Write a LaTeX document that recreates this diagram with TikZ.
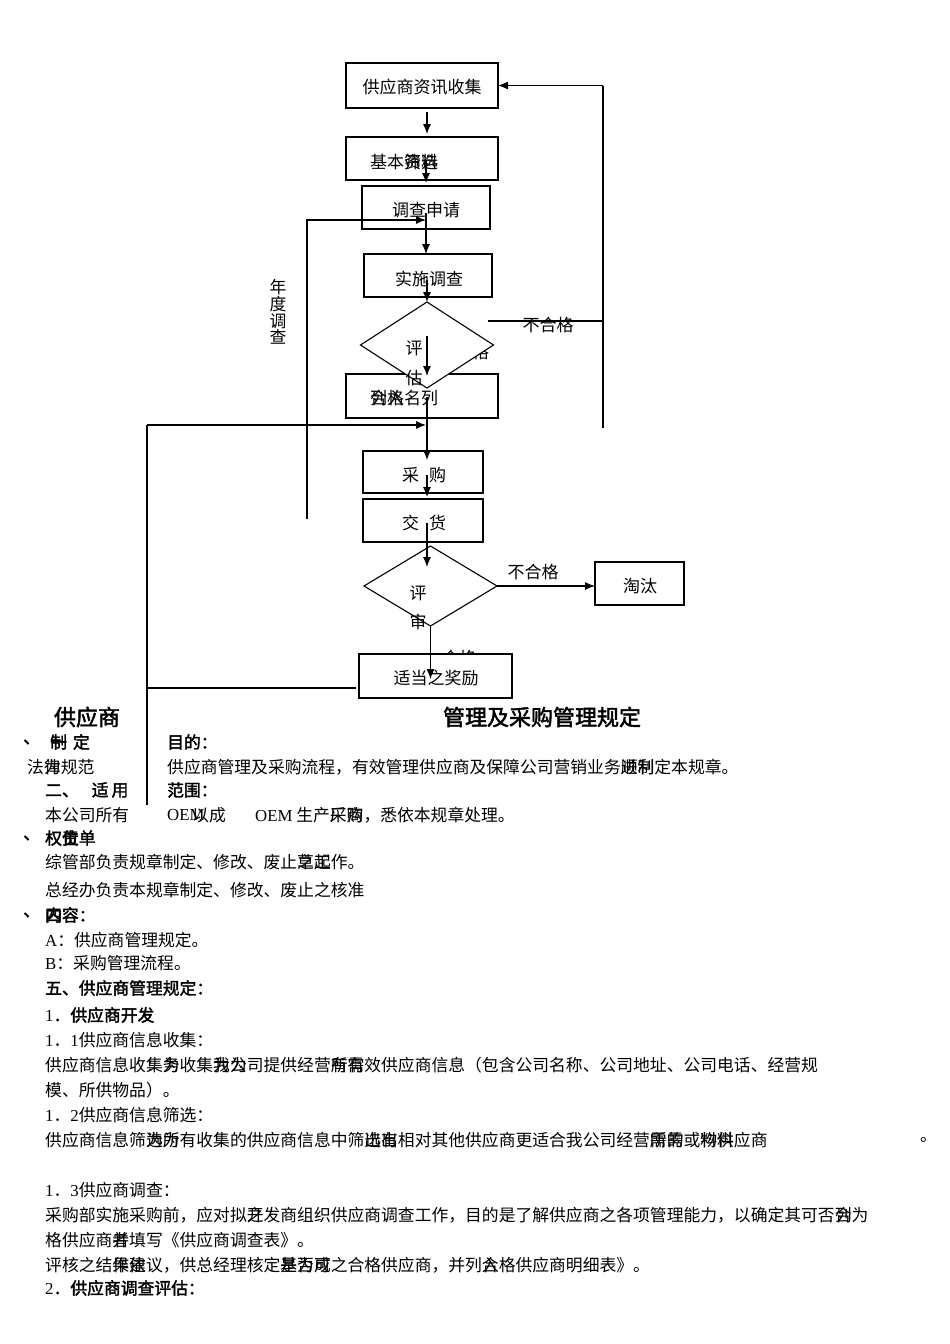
\documentclass[tikz,border=0pt]{standalone}
\usepackage{fontspec}
\setmainfont{Noto Sans CJK SC}
\newfontfamily\lat{Liberation Serif}
\newfontfamily\cjkb[FakeBold=2]{Noto Sans CJK SC}
\usetikzlibrary{arrows.meta,shapes.geometric}
\newcommand\olap[2]{\rlap{#1}#2}
\begin{document}
\begin{tikzpicture}[x=1pt,y=-1pt,
  box/.style={draw,line width=1.1pt,fill=white,inner sep=0pt,outer sep=0pt},
  dia/.style={draw,line width=1.1pt,fill=white,shape=diamond,inner sep=0pt,outer sep=0pt},
  lbl/.style={inner sep=0pt,font=\fontsize{17}{20}\selectfont},
  txt/.style={anchor=west,inner sep=0pt,font=\fontsize{16.8}{20}\selectfont},
  btxt/.style={anchor=west,inner sep=0pt,font=\cjkb\fontsize{16.8}{20}\selectfont},
  ttl/.style={inner sep=0pt,font=\cjkb\fontsize{22}{24}\selectfont},
  conn/.style={line width=1.1pt},
  arr/.style={conn,-{Latex[length=10pt,width=8pt]}}]
\path[fill=white,use as bounding box] (0,0) rectangle (950,1344);

% labels partly covered by shapes
\node[lbl] (g1) at (472,352) {合格};
\node[lbl] (g2) at (459,658) {合格};

% shapes
\node[box,minimum width=152pt,minimum height=45pt] (b1) at (422,85.5) {};
\node[box,minimum width=152pt,minimum height=43pt] (b2) at (422,158.5) {};
\node[box,minimum width=128pt,minimum height=43pt] (b3) at (426,207.5) {};
\node[box,minimum width=128pt,minimum height=43pt] (b4) at (428,275.5) {};
\node[box,minimum width=152pt,minimum height=44pt] (b5) at (422,396) {};
\node[dia,minimum width=133pt,minimum height=86pt] (d1) at (427,345) {};
\node[box,minimum width=120pt,minimum height=42pt] (bc) at (423,472) {};
\node[box,minimum width=120pt,minimum height=43pt] (bj) at (423,520.5) {};
\node[dia,minimum width=133pt,minimum height=80pt] (d2) at (430.5,586) {};
\node[box,minimum width=89pt,minimum height=43pt] (bt) at (639.5,583.5) {};
\node[box,minimum width=153pt,minimum height=44pt] (bw) at (435.5,676) {};

% flowchart texts
\node[lbl] (t1) at (422,87) {供应商资讯收集};
\node[lbl,anchor=west] (t2) at (370,162) {基本\olap{资}{筛}\olap{料}{选}};
\node[lbl] (t3) at (426,210) {调查申请};
\node[lbl] (t4) at (429,279) {实施调查};
\node[lbl,anchor=west] (t5) at (370,398) {\olap{列}{合}\olap{入}{格}名列};
\node[lbl] (e1) at (414,348) {评};
\node[lbl] (e2) at (414,378) {估};
\node[lbl] (nf1) at (548,325) {不合格};
\node[lbl,align=center,font=\fontsize{16.8}{16.8}\selectfont] (yd) at (278,312) {年\\度\\调\\查};
\node[lbl] (tc) at (424,475) {采\hspace{10pt}购};
\node[lbl] (tj) at (424,523) {交\hspace{10pt}货};
\node[lbl] (r1) at (418,593) {评};
\node[lbl] (r2) at (418,622) {审};
\node[lbl] (nf2) at (533,572) {不合格};
\node[lbl] (tt) at (640,586) {淘汰};
\node[lbl] (tw) at (436,678) {适当之奖励};

% connector end points
\coordinate (a1s) at (427,112); \coordinate (a1e) at (427,134);
\coordinate (a2s) at (426,160); \coordinate (a2e) at (426,183);
\coordinate (yL) at (307,519); \coordinate (yT) at (307,220); \coordinate (yE) at (426,220);
\coordinate (a3s) at (426,213); \coordinate (a3e) at (426,254);
\coordinate (a4s) at (427,280); \coordinate (a4e) at (427,302);
\coordinate (a5s) at (427,336); \coordinate (a5e) at (427,376);
\coordinate (fL) at (488,321); \coordinate (fR) at (603,321);
\coordinate (fB) at (603,428); \coordinate (fT) at (603,85.5);
\coordinate (c5s) at (427,397); \coordinate (cE) at (427,460);
\coordinate (wL) at (356,688); \coordinate (lC) at (147,688);
\coordinate (lB) at (147,805); \coordinate (lT) at (147,425); \coordinate (lE) at (426,425);
\coordinate (cs) at (427,475); \coordinate (ce) at (427,497);
\coordinate (js) at (427,523); \coordinate (je) at (427,567);
\coordinate (wE) at (430.5,679);

% connectors
\draw[arr] (a1s) -- (a1e);
\draw[arr] (a2s) -- (a2e);
\draw[arr] (yL) -- (yT) -- (yE);
\draw[arr] (a3s) -- (a3e);
\draw[arr] (a4s) -- (a4e);
\draw[arr] (a5s) -- (a5e);
\draw[conn] (fL) -- (fR);
\draw[conn] (fB) -- (fT);
\draw[arr] (fT) -- (b1.east);
\draw[arr] (c5s) -- (cE);
\draw[conn] (wL) -- (lC);
\draw[conn] (lB) -- (lT);
\draw[arr] (lT) -- (lE);
\draw[arr] (cs) -- (ce);
\draw[arr] (js) -- (je);
\draw[arr] (d2.east) -- (d2.east -| bt.west);
\draw[arr] (d2.south) -- (wE);

% document text
\node[ttl] (h1) at (87,717) {供应商};
\node[ttl] (h2) at (542,717) {管理及采购管理规定};
\node[btxt] (s1a) at (23,742) {、};
\node[btxt] (s1b) at (50,742) {\olap{一}{制}\hspace{6pt}定};
\node[btxt] (s1c) at (167,742) {目的：};
\node[txt] (s1d) at (27,767) {法\olap{律}{为}规范};
\node[txt] (s1e) at (167,767) {供应商管理及采购流程，有效管理供应商及保障公司营销业务\olap{顺}{进}\olap{利}{制}定本规章。};
\node[btxt] (s2a) at (45,790) {二、\hspace{13pt}适\hspace{3pt}用};
\node[btxt] (s2b) at (167,790) {范围：};
\node[txt] (s2c) at (45,815) {本公司所有};
\node[txt] (s2d) at (167,815) {{\lat OEM}};
\node[txt] (s2e) at (192,815) {以成};
\node[txt] (s2f) at (255,815) {{\lat OEM} 生产\olap{厂}{采}\olap{商}{购}，悉依本规章处理。};
\node[btxt] (s3a) at (23,838) {、};
\node[btxt] (s3b) at (45,838) {权\olap{责}{位}单};
\node[txt] (s3c) at (45,862) {综管部负责规章制定、修改、废止\olap{之}{草}\olap{起}{工}作。};
\node[txt] (s3d) at (45,890) {总经办负责本规章制定、修改、废止之核准};
\node[btxt] (s4a) at (23,915) {、};
\node[btxt] (s4b) at (45,915) {\olap{四}{内}容：};
\node[txt] (s4c) at (45,940) {{\lat A}：供应商管理规定。};
\node[txt] (s4d) at (45,963) {{\lat B}：采购管理流程。};
\node[btxt] (s5a) at (45,988) {五、供应商管理规定：};
\node[btxt] (s5b) at (45,1015) {{\lat 1}．供应商开发};
\node[txt] (s5c) at (45,1040) {{\lat 1}．{\lat 1}供应商信息收集：};
\node[txt] (s5d) at (45,1065) {供应商信息收\olap{集}{：}\olap{为}{务}收集\olap{我}{为}\olap{公}{为}司提供经营\olap{所}{有}\olap{需}{有}效供应商信息（包含公司名称、公司地址、公司电话、经营规};
\node[txt] (s5e) at (45,1090) {模、所供物品）。};
\node[txt] (s5f) at (45,1115) {{\lat 1}．{\lat 2}供应商信息筛选：};
\node[txt] (s5g) at (45,1140) {供应商信息筛\olap{选}{为}\olap{为}{所}有收集的供应商信息中筛\olap{选}{出}\olap{出}{有}相对其他供应商更适合我公司经营\olap{所}{需}\olap{需}{的}或\olap{物}{料}\olap{料}{供}应商};
\node[txt] (s5h) at (920,1140) {。};
\node[txt] (s5i) at (45,1190) {{\lat 1}．{\lat 3}供应商调查：};
\node[txt] (s5j) at (45,1215) {采购部实施采购前，应对拟\olap{开}{之}发商组织供应商调查工作，目的是了解供应商之各项管理能力，以确定其可否\olap{列}{合}为};
\node[txt] (s5k) at (45,1240) {格供应商\olap{者}{并}填写《供应商调查表》。};
\node[txt] (s5l) at (45,1265) {评核之结\olap{果}{作}\olap{依}{建}议，供总经理核定\olap{是}{基}\olap{否}{为}\olap{成}{可}之合格供应商，并列\olap{合}{入}格供应商明细表》。};
\node[btxt] (s6a) at (45,1288) {{\lat 2}．供应商调查评估：};
\end{tikzpicture}
\end{document}
